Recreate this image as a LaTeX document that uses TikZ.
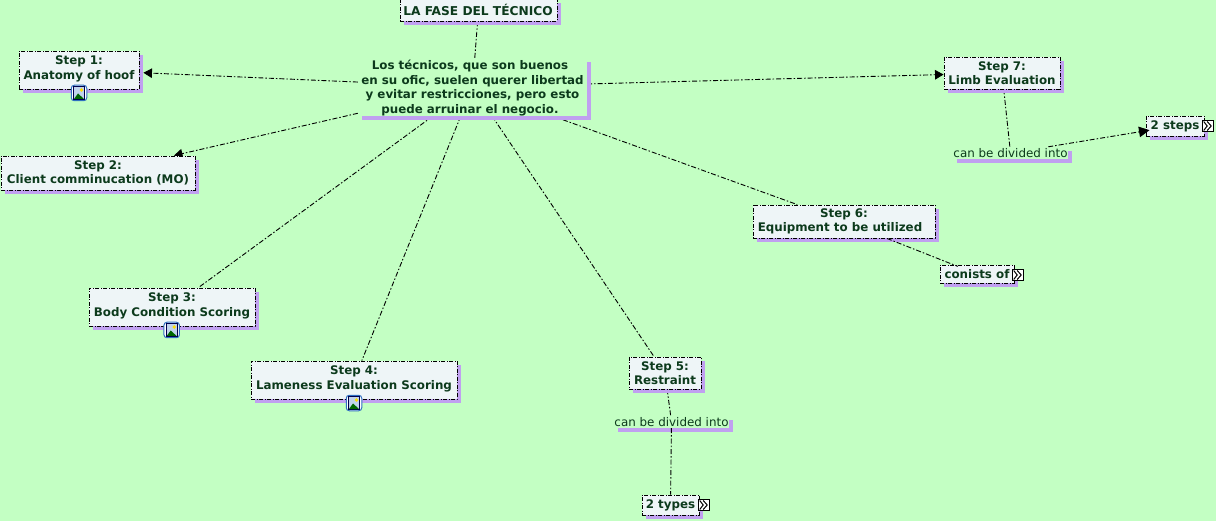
\documentclass[tikz,border=0pt]{standalone}
\usepackage{fontspec}
\setmainfont{DejaVu Sans}
\usetikzlibrary{arrows.meta,shadows}
\definecolor{bgc}{RGB}{195,255,195}
\definecolor{boxc}{RGB}{238,245,247}
\definecolor{shc}{RGB}{192,160,240}
\definecolor{txtc}{RGB}{12,58,28}
\definecolor{iconb}{RGB}{48,112,192}
\pgfdeclarelayer{back}
\pgfsetlayers{back,main}
\newcommand{\liftup}{\rule[-5pt]{0pt}{0pt}}
\newcommand{\dropdown}{\rule{0pt}{11.5pt}}
\tikzset{
  x=1pt,y=-1pt,
  purpleshadow/.style={general shadow={fill=shc,shadow xshift=4pt,shadow yshift=-4pt}},
  stepbox/.style={purpleshadow,draw=black,line width=0.9pt,dash pattern=on 4pt off 1.5pt on 1pt off 1.5pt,fill=boxc,
    inner sep=0pt,text=txtc,align=center,font=\fontsize{11.85}{14.4}\selectfont\bfseries},
  plainbox/.style={purpleshadow,fill=bgc,inner sep=0pt,text=txtc,align=center,font=\fontsize{11.85}{14.5}\selectfont\bfseries},
  linkbox/.style={purpleshadow,fill=bgc,inner sep=0pt,text=txtc,font=\fontsize{11.9}{14.4}\selectfont},
  link/.style={draw=black,line width=0.9pt,dash pattern=on 5pt off 2pt on 1.5pt off 2pt},
  tipped/.style={link,-{Triangle[length=8.5pt,width=9.5pt]}},
  bigtipped/.style={link,-{Triangle[length=10.5pt,width=10.5pt]}},
  imgicon/.style={draw=iconb,line width=1pt,fill=white,rounded corners=3pt,minimum size=15.5pt,inner sep=0pt},
  moreicon/.style={draw=black,line width=0.8pt,fill=white,minimum size=11.5pt,inner sep=0pt},
}
\newcommand{\pictureicon}[3]{%
  \node[imgicon] (#1) at (#2,#3) {};
  \fill[white!70!iconb,draw=black!70!blue,line width=0.8pt] (#2-5.5,#3-6.5) rectangle (#2+5.5,#3+6.5);
  \fill[yellow!80!orange] (#2+2.5,#3-3) circle (1.8pt);
  \fill[green!40!black] (#2-5,#3+6) -- (#2-1,#3+0.5) -- (#2+5,#3+6) -- cycle;
}
\newcommand{\moreglyph}[3]{%
  \node[moreicon] (#1) at (#2,#3) {};
  \draw[black,line width=1pt] (#2-4,#3-4.5) -- (#2-0.5,#3) -- (#2-4,#3+4.5);
  \draw[black,line width=1pt] (#2-0.5,#3-4.5) -- (#2+3.5,#3) -- (#2-0.5,#3+4.5);
}
\begin{document}
\begin{tikzpicture}
\useasboundingbox (0,0) rectangle (1216,521);

\node[stepbox,minimum width=157pt,minimum height=22pt,font=\fontsize{12.2}{14.4}\selectfont\bfseries] (title) at (478.5,10) {LA FASE DEL TÉCNICO\hspace*{1pt}};
\node[plainbox,minimum width=229pt,minimum height=58pt] (center) at (472.5,87)
  {\dropdown Los técnicos, que son buenos\hspace*{5pt}\\en su ofic, suelen querer libertad\hspace*{5pt}\\y evitar restricciones, pero esto\hspace*{5pt}\\puede arruinar el negocio.\hspace*{5pt}};
\node[stepbox,minimum width=120pt,minimum height=38pt] (s1) at (79,70) {Step 1:\\Anatomy of hoof\liftup};
\node[stepbox,minimum width=194pt,minimum height=34pt] (s2) at (98,173) {Step 2:\\Client comminucation (MO)};
\node[stepbox,minimum width=166pt,minimum height=38pt] (s3) at (172,307) {Step 3:\\Body Condition Scoring\liftup};
\node[stepbox,minimum width=206pt,minimum height=38pt] (s4) at (354,380) {Step 4:\\Lameness Evaluation Scoring\liftup};
\node[stepbox,minimum width=72pt,minimum height=32pt] (s5) at (665,373) {Step 5:\\Restraint};
\node[stepbox,minimum width=182pt,minimum height=33pt] (s6) at (844,221.5) {Step 6:\\Equipment to be utilized\hspace*{8pt}};
\node[stepbox,minimum width=116pt,minimum height=32pt] (s7) at (1002,73) {Step 7:\\Limb Evaluation};
\node[linkbox,minimum width=115pt,minimum height=12pt] (div7) at (1010.5,153) {can be divided into};
\node[linkbox,minimum width=115pt,minimum height=12pt] (div5) at (671.5,422) {can be divided into};
\node[stepbox,minimum width=58pt,minimum height=20pt] (steps) at (1175,126) {2 steps};
\node[stepbox,minimum width=57pt,minimum height=20pt] (types) at (670.5,505) {2 types};
\node[stepbox,minimum width=74pt,minimum height=18pt] (cons) at (977,274) {conists of};

\begin{pgfonlayer}{back}
\fill[bgc] (0,0) rectangle (1216,521);
\draw[link] (title) -- (center);
\draw[tipped,shorten >=4pt] (center) -- (s1);
\draw[tipped] (center) -- (s2);
\draw[link] (center) -- (s3);
\draw[link] (center) -- (s4);
\draw[link] (center) -- (s5);
\draw[link] (center) -- (s6);
\draw[tipped] (center) -- (s7);
\draw[link] (s5) -- (div5);
\draw[link] (s7) -- (div7);
\end{pgfonlayer}
\draw[link] (div5) -- (types);
\draw[link,shorten >=-5pt] (s6) -- (cons);
\draw[bigtipped,shorten >=-4pt] (div7) -- (steps);

\pictureicon{i1}{79}{93}
\pictureicon{i3}{171.7}{330}
\pictureicon{i4}{354}{403}
\moreglyph{m1}{1207.7}{126}
\moreglyph{m2}{703.7}{505}
\moreglyph{m3}{1017.7}{275}
\end{tikzpicture}
\end{document}
